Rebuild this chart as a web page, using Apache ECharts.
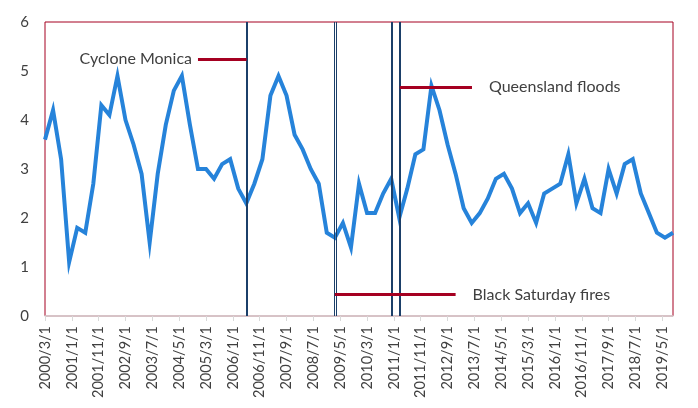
<!DOCTYPE html>
<html>
<head>
<meta charset="utf-8">
<script src="https://cdn.jsdelivr.net/npm/echarts@6/dist/echarts.min.js"></script>
<style>
  html, body { margin: 0; padding: 0; background: #ffffff; }
  #chart { width: 698px; height: 408px; }
</style>
</head>
<body>
<div id="chart"></div>
<script>
// ---- Data ----
const firstDate = '2000/3/1';          // first quarterly observation
const stepMonths = 3;                   // quarterly series
const values = [
  3.6, 4.2, 3.2, 1.1, 1.8, 1.7, 2.7, 4.3, 4.1, 4.9,
  4.0, 3.5, 2.9, 1.5, 2.9, 3.9, 4.6, 4.9, 3.9, 3.0,
  3.0, 2.8, 3.1, 3.2, 2.6, 2.3, 2.7, 3.2, 4.5, 4.9,
  4.5, 3.7, 3.4, 3.0, 2.7, 1.7, 1.6, 1.9, 1.4, 2.7,
  2.1, 2.1, 2.5, 2.8, 2.0, 2.6, 3.3, 3.4, 4.7, 4.2,
  3.5, 2.9, 2.2, 1.9, 2.1, 2.4, 2.8, 2.9, 2.6, 2.1,
  2.3, 1.9, 2.5, 2.6, 2.7, 3.3, 2.3, 2.8, 2.2, 2.1,
  3.0, 2.5, 3.1, 3.2, 2.5, 2.1, 1.7, 1.6, 1.7
];
const tickLabels = [
  '2000/3/1', '2001/1/1', '2001/11/1', '2002/9/1', '2003/7/1', '2004/5/1',
  '2005/3/1', '2006/1/1', '2006/11/1', '2007/9/1', '2008/7/1', '2009/5/1',
  '2010/3/1', '2011/1/1', '2011/11/1', '2012/9/1', '2013/7/1', '2014/5/1',
  '2015/3/1', '2016/1/1', '2016/11/1', '2017/9/1', '2018/7/1', '2019/5/1'
];
const yTicks = [0, 1, 2, 3, 4, 5, 6];

// Event annotations (month offsets from firstDate, value level)
const eventVLines = [75.1, 107.8, 108.5, 129.2, 132.2];
const eventBars = [
  { name: 'Cyclone Monica',        from: 57.0,  to: 75.1,  level: 5.25, side: 'start' },
  { name: 'Queensland floods',     from: 132.2, to: 159.1, level: 4.67, side: 'end' },
  { name: 'Black Saturday fires',  from: 108.0, to: 153.0, level: 0.435, side: 'end' }
];

// ---- Helpers ----
function monthIndex(s) {
  const p = s.split('/').map(Number);
  const b = firstDate.split('/').map(Number);
  return (p[0] - b[0]) * 12 + (p[1] - b[1]);
}
const seriesData = values.map((v, i) => [i * stepMonths, v]);
const tickPos = tickLabels.map(monthIndex);
const labelByPos = {};
tickPos.forEach((p, i) => { labelByPos[p] = tickLabels[i]; });
const xMax = (values.length - 1) * stepMonths;

const FONT = 'Lato';
const TXT = '#404040';

const chart = echarts.init(document.getElementById('chart'), null, { renderer: 'canvas' });

const series = [
  {
    type: 'line',
    data: seriesData,
    showSymbol: false,
    symbol: 'none',
    z: 3,
    lineStyle: { color: '#2683DA', width: 4, join: 'miter' },
    itemStyle: { color: '#2683DA' },
    animation: false
  },
  {
    type: 'line',
    data: [],
    z: 5,
    markLine: {
      silent: true,
      symbol: ['none', 'none'],
      animation: false,
      label: { show: false },
      data: eventVLines.map((x, i) => ({
        xAxis: x,
        lineStyle: {
          color: '#1B3F69',
          type: 'solid',
          width: (i === 1 || i === 2) ? 1 : 2
        }
      }))
    }
  }
];

eventBars.forEach(ev => {
  series.push({
    type: 'line',
    data: [],
    z: 2,
    markLine: {
      silent: true,
      symbol: ['none', 'none'],
      animation: false,
      lineStyle: { color: '#A50021', width: 3, type: 'solid' },
      label: {
        show: true,
        position: ev.side,
        formatter: ev.name,
        color: TXT,
        fontFamily: FONT,
        fontSize: 16,
        distance: ev.side === 'start' ? 6 : 17,
        padding: ev.name === 'Black Saturday fires' ? [0, 0, 10, 0] : [0, 0, 3, 0]
      },
      data: [[{ coord: [ev.from, ev.level] }, { coord: [ev.to, ev.level] }]]
    }
  });
});

chart.setOption({
  animation: false,
  backgroundColor: '#ffffff',
  grid: {
    left: 45, right: 25, top: 22, bottom: 92,
    show: true,
    borderColor: '#A50021',
    borderWidth: 1,
    backgroundColor: 'transparent'
  },
  xAxis: {
    type: 'value',
    min: 0,
    max: xMax,
    splitLine: { show: false },
    axisLine: { show: true, lineStyle: { color: '#D9D9D9', width: 1.5 } },
    axisTick: { show: true, length: 5, lineStyle: { color: '#D9D9D9' }, customValues: tickPos },
    axisLabel: {
      customValues: tickPos,
      rotate: 90,
      margin: 10,
      color: TXT,
      fontFamily: FONT,
      fontSize: 14.5,
      formatter: v => labelByPos[Math.round(v)] || ''
    }
  },
  yAxis: {
    type: 'value',
    min: yTicks[0],
    max: yTicks[yTicks.length - 1],
    interval: 1,
    splitLine: { show: false },
    axisLine: { show: false },
    axisTick: { show: false },
    axisLabel: { color: TXT, fontFamily: FONT, fontSize: 15, margin: 16 }
  },
  series: series
});
</script>
</body>
</html>
